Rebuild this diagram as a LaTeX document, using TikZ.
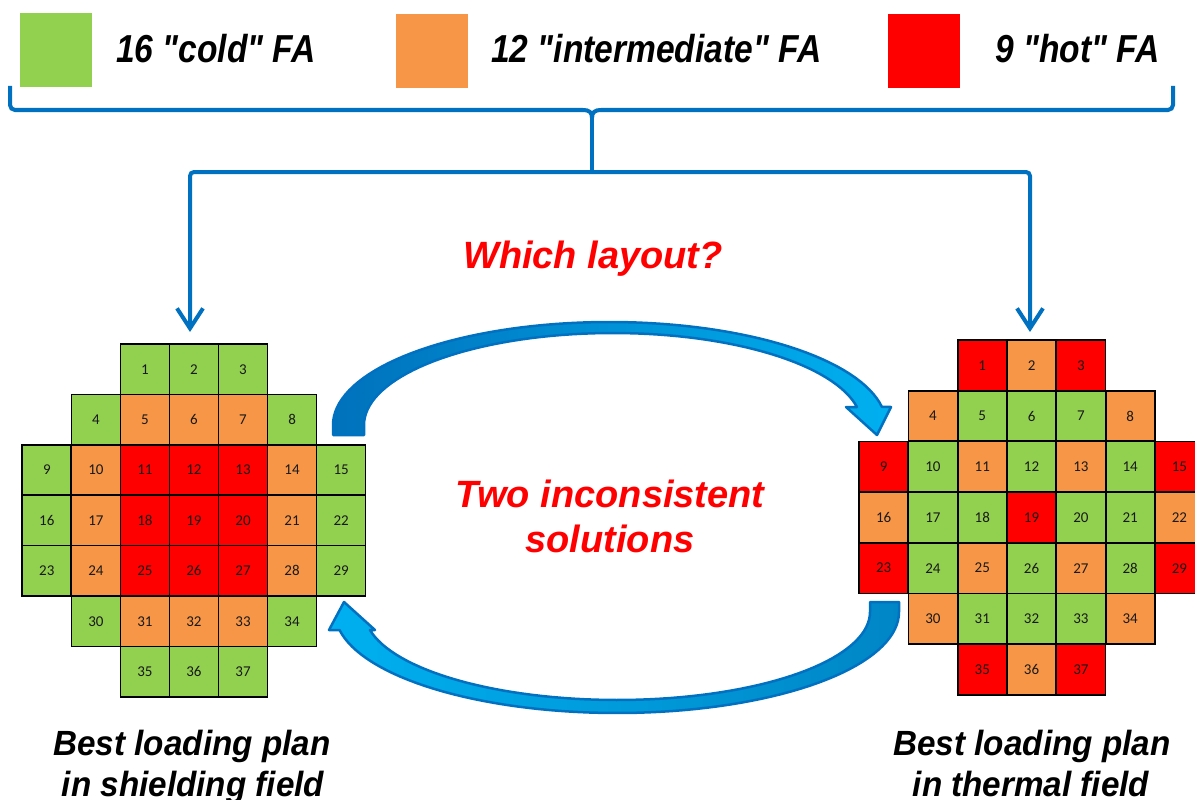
\documentclass[tikz,border=0pt]{standalone}
\usepackage{fontspec}
\usepackage{graphicx}
\setmainfont{Liberation Sans}
\newfontfamily\lsans{Liberation Sans}
\newfontfamily\cellfont{Carlito}
\usetikzlibrary{arrows.meta}
\definecolor{cG}{HTML}{92D050}
\definecolor{cO}{HTML}{F79646}
\definecolor{cR}{HTML}{FF0000}
\definecolor{brkblue}{HTML}{0070C0}
\definecolor{arrDark}{HTML}{0072BC}
\definecolor{arrLight}{HTML}{00B0F0}
\definecolor{arrDarkB}{HTML}{0086C6}
\definecolor{arrEdge}{HTML}{0070C0}
\definecolor{redtxt}{HTML}{FF0000}
\newcommand{\sq}{\char34\relax}
\begin{document}
\begin{tikzpicture}[x=1pt,y=-1pt,
  cell/.style={draw=black, line width=1.7pt, minimum width=49pt, minimum height=50.5pt, inner sep=0pt,
    font=\cellfont\fontsize{15}{17}\selectfont, text=black!90},
  legsq/.style={minimum width=72pt, minimum height=74pt, inner sep=0pt},
  legtxt/.style={anchor=base west, inner sep=0pt, font=\lsans\bfseries\itshape\fontsize{39}{45}\selectfont},
  redlbl/.style={anchor=base, inner sep=0pt, text=redtxt, font=\bfseries\itshape\fontsize{38}{45}\selectfont},
  planlbl/.style={anchor=base, inner sep=0pt, font=\bfseries\itshape\fontsize{35}{41}\selectfont},
  brk/.style={draw=brkblue, line width=4pt},
  brkarrow/.style={brk, rounded corners=4pt, -{Straight Barb[length=20pt,width=26pt]}},
  bigarrow/.style={draw=arrEdge, line width=2.5pt, line join=round}
]
\useasboundingbox (0,0) rectangle (1195,800);
\clip (0,0) rectangle (1195,800);

% legend
\node[legsq, fill=cG] (sqG) at (56,50.5) {};
\node[legtxt] (txG) at (116,63) {\scalebox{0.86}[1]{16 \sq cold\sq{} FA}};
\node[legsq, fill=cO] (sqO) at (432,51.5) {};
\node[legtxt] (txO) at (491,63) {\scalebox{0.86}[1]{12 \sq intermediate\sq{} FA}};
\node[legsq, fill=cR] (sqR) at (923.5,51.5) {};
\node[legtxt] (txR) at (995,63) {\scalebox{0.86}[1]{9 \sq hot\sq{} FA}};

% bracket
\coordinate (bl) at (10,86);
\coordinate (br) at (1173,86);
\coordinate (bc) at (592,118);
\coordinate (split) at (592,172);
\coordinate (tipL) at (190,332);
\coordinate (tipR) at (1030,332);
\draw[brk, rounded corners=5pt] (bl) -- (10,110) -- (583,110);
\draw[brk] (583,110) .. controls (589,110) and (592,112) .. (bc);
\draw[brk, rounded corners=5pt] (br) -- (1173,110) -- (601,110);
\draw[brk] (601,110) .. controls (595,110) and (592,112) .. (bc);
\draw[brk] (bc) -- (split);
\draw[brkarrow] (split) -| (tipL);
\draw[brkarrow] (split) -| (tipR);

% texts
\node[redlbl] (which) at (593,268) {Which layout?};
\node[redlbl] (two1) at (610,507) {Two inconsistent};
\node[redlbl] (two2) at (610,552) {solutions};

\node[planlbl] (pl1) at (192,755) {\scalebox{0.95}[1]{Best loading plan}};
\node[planlbl] (pl2) at (193,796) {\scalebox{0.95}[1]{in shielding field}};
\node[planlbl] (pr1) at (1032,755) {\scalebox{0.95}[1]{Best loading plan}};
\node[planlbl] (pr2) at (1031,796) {\scalebox{0.95}[1]{in thermal field}};

% left grid (shielding)
\foreach \r/\cs/\first/\cols in {0/2/1/{G,G,G},1/1/4/{G,O,O,O,G},2/0/9/{G,O,R,R,R,O,G},3/0/16/{G,O,R,R,R,O,G},4/0/23/{G,O,R,R,R,O,G},5/1/30/{G,O,O,O,G},6/2/35/{G,G,G}}{
  \foreach \col [count=\i from 0] in \cols {
    \pgfmathtruncatemacro\num{\first+\i}
    \node[cell, fill=c\col] (L\num) at ({22.3+(\cs+\i+0.5)*49.05},{344+(\r+0.5)*50.4}) {\num};
  }
}

% right grid (thermal)
\foreach \r/\cs/\first/\cols in {0/2/1/{R,O,R},1/1/4/{O,G,G,G,O},2/0/9/{R,G,O,G,O,G,R},3/0/16/{O,G,G,R,G,G,O},4/0/23/{R,G,O,G,O,G,R},5/1/30/{O,G,G,G,O},6/2/35/{R,O,R}}{
  \foreach \col [count=\i from 0] in \cols {
    \pgfmathtruncatemacro\num{\first+\i}
    \node[cell, fill=c\col] (R\num) at ({859+(\cs+\i+0.5)*49.3},{340+(\r+0.5)*50.7}) {\num};
  }
}

% curved arrows
\shadedraw[bigarrow, left color=arrDark, right color=arrLight]
  (333,435) -- (333,425)
  -- plot[domain=180:349.9, samples=70, variable=\t] ({609.6+276.6*cos(\t)},{425+103*sin(\t)})
  -- (891,407) -- (877,435) -- (846,407) -- (857,407)
  -- plot[domain=348.7:180, samples=70, variable=\t] ({612.9+248.9*cos(\t)},{425+92*sin(\t)})
  -- (364,435) -- cycle;

\shadedraw[bigarrow, left color=arrLight, right color=arrDarkB]
  (899,602) -- (899,612)
  -- plot[domain=0:169.7, samples=70, variable=\t] ({617+282*cos(\t)},{612+101*sin(\t)})
  -- (329,630) -- (344,602) -- (375,630) -- (370,630)
  -- plot[domain=168.2:0, samples=70, variable=\t] ({617.3+252.7*cos(\t)},{612+88*sin(\t)})
  -- (870,602) -- cycle;
\end{tikzpicture}
\end{document}
